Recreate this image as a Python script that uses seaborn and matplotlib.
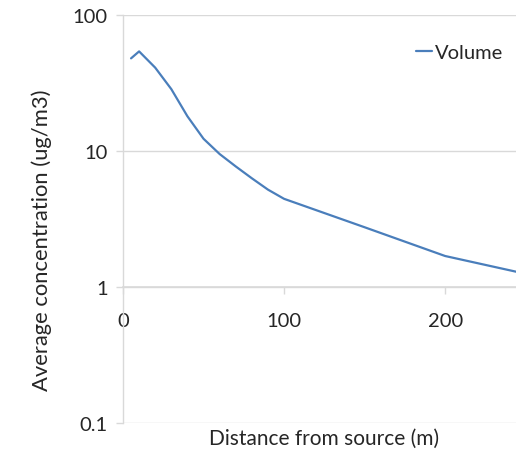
import matplotlib
matplotlib.use("Agg")
import matplotlib.pyplot as plt
import seaborn as sns
import pandas as pd
from matplotlib.ticker import NullLocator, FixedLocator, FixedFormatter

distance = [5, 10, 20, 30, 40, 50, 60, 70, 80, 90, 100, 150, 200, 250]
concentration = [48, 54, 41, 28.5, 18, 12.3, 9.5, 7.7, 6.3, 5.2, 4.45, 2.75, 1.69, 1.25]
series_name = "Volume"
y_ticks = [0.1, 1, 10, 100]
y_tick_labels = ["0.1", "1", "10", "100"]
x_ticks = [0, 100, 200]
x_tick_labels = ["0", "100", "200"]

sns.set_theme(style="white")
plt.rcParams["font.family"] = ["Lato", "DejaVu Sans"]

df = pd.DataFrame({"Distance": distance, "Concentration": concentration, "Series": series_name})

W, H = 516, 456
fs = 14.5
fig = plt.figure(figsize=(W / 100, H / 100), dpi=100)
ax = fig.add_axes([123 / W, 32 / H, (W - 123) / W, (424 - 16) / H])

sns.lineplot(data=df, x="Distance", y="Concentration", hue="Series",
             palette=["#4A7EBB"], linewidth=1.6, ax=ax, clip_on=True)

ax.set_yscale("log")
ax.set_ylim(0.1, 100)
ax.set_xlim(0, 244)
ax.yaxis.set_major_locator(FixedLocator(y_ticks))
ax.yaxis.set_major_formatter(FixedFormatter(y_tick_labels))
ax.yaxis.set_minor_locator(NullLocator())
ax.set_xticks(x_ticks)
ax.set_xticklabels(x_tick_labels)

grid_c = "#D9D9D9"
ax.yaxis.grid(True, color=grid_c, linewidth=1.0)
ax.xaxis.grid(False)
for s in ["top", "right"]:
    ax.spines[s].set_visible(False)
ax.spines["left"].set_color(grid_c)
ax.spines["left"].set_linewidth(1.0)
ax.spines["bottom"].set_position(("data", 1))
ax.spines["bottom"].set_color(grid_c)
ax.spines["bottom"].set_linewidth(1.2)

txt_c = "#262626"
ax.tick_params(axis="y", which="major", direction="out", length=5, width=1.0,
               color=grid_c, left=True, pad=6, labelsize=fs, labelcolor=txt_c)
ax.tick_params(axis="x", which="major", direction="out", length=5, width=1.0,
               color=grid_c, bottom=True, pad=13, labelsize=fs, labelcolor=txt_c)

ax.set_xlabel("Distance from source (m)", fontsize=15, color=txt_c, va="center")
ax.set_ylabel("Average concentration (ug/m3)", fontsize=15.8, color=txt_c, va="center")
ax.xaxis.set_label_coords((324 - 123) / 393, -15 / 408)
ax.yaxis.set_label_coords((42 - 123) / 393, (424 - 240) / 408)

leg = ax.legend(loc="center left", bbox_to_anchor=((416 - 123) / 393, (424 - 53) / 408),
                frameon=False, fontsize=fs, handlelength=0.8, handletextpad=0.15,
                borderpad=0, borderaxespad=0)
for t in leg.get_texts():
    t.set_color(txt_c)

fig.savefig("out.png", dpi=100)
